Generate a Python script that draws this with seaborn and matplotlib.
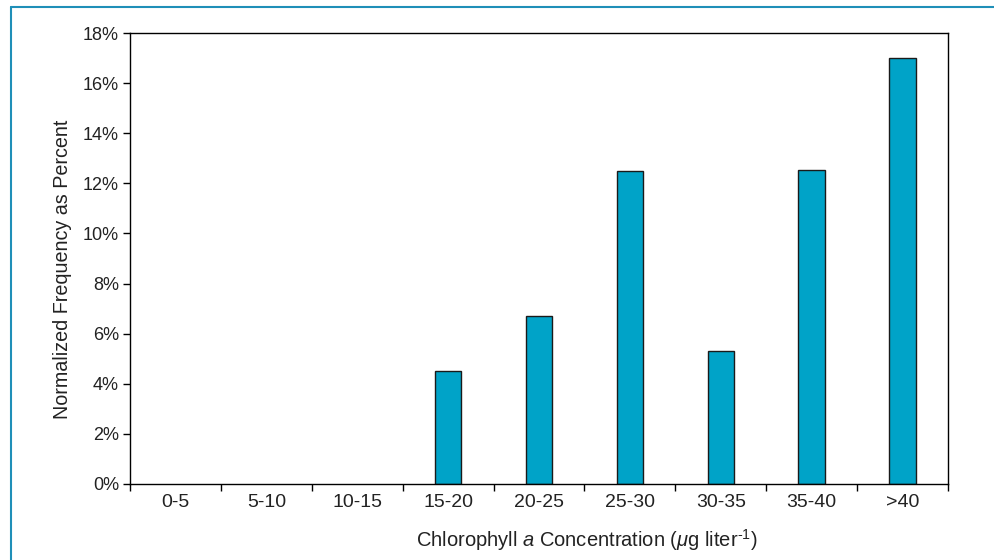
import matplotlib
matplotlib.use("Agg")
import matplotlib.pyplot as plt
import seaborn as sns
import pandas as pd
from matplotlib.ticker import FuncFormatter, FixedLocator
from matplotlib.lines import Line2D

categories = ["0-5", "5-10", "10-15", "15-20", "20-25", "25-30", "30-35", "35-40", ">40"]
values = [0.0, 0.0, 0.0, 4.5, 6.7, 12.5, 5.3, 12.55, 17.0]
y_ticks = [0, 2, 4, 6, 8, 10, 12, 14, 16, 18]

sns.set_theme(style="white")
plt.rcParams['font.family'] = ['Liberation Sans', 'DejaVu Sans']
plt.rcParams['mathtext.fontset'] = 'custom'
plt.rcParams['mathtext.rm'] = 'Liberation Sans'
plt.rcParams['mathtext.it'] = 'Liberation Sans:italic'

df = pd.DataFrame({"cat": categories, "val": values})

fig = plt.figure(figsize=(9.95, 5.6), dpi=100)
ax = fig.add_axes([130/995, 1-484/560, (948-130)/995, (484-33)/560])

sns.barplot(data=df, x="cat", y="val", order=categories, color="#00A3C8",
            saturation=1, width=0.29, edgecolor="#1a1a1a", linewidth=1.0, ax=ax)
for p in ax.patches:
    if p.get_height() == 0:
        p.set_linewidth(0)

ax.set_xlim(-0.5, len(categories)-0.5)
ax.set_ylim(0, 18)
ax.set_yticks(y_ticks)
ax.yaxis.set_major_formatter(FuncFormatter(lambda v, p: f"{int(v)}%"))
ax.tick_params(axis="y", which="major", direction="out", length=5, width=1,
               color="black", labelsize=13, pad=3, left=True)
ax.tick_params(axis="x", which="major", length=0, labelsize=14, pad=7)
ax.xaxis.set_minor_locator(FixedLocator([i - 0.5 for i in range(len(categories)+1)]))
ax.tick_params(axis="x", which="minor", direction="out", length=5, width=1,
               color="black", bottom=True)
for s in ax.spines.values():
    s.set_visible(True)
    s.set_color("black")
    s.set_linewidth(1.0)

ax.set_xlabel(r"Chlorophyll $a$ Concentration ($\mu$g liter$^{\text{-}1}$)", fontsize=14.5, color="#222222")
ax.set_ylabel("Normalized Frequency as Percent", fontsize=14.2, color="#222222")
ax.xaxis.set_label_coords((587-130)/818, -(540-484)/451)
ax.xaxis.label.set_va("center")
ax.yaxis.set_label_coords(-(130-62)/818, (484-269)/451)
ax.yaxis.label.set_va("center")
for lab in ax.get_xticklabels() + ax.get_yticklabels():
    lab.set_color("#222222")

# figure frame (left and top edges)
fc = "#1f8fb8"
fig.add_artist(Line2D([11/995, 11/995], [0, 1-7/560], transform=fig.transFigure, color=fc, lw=1.5))
fig.add_artist(Line2D([11/995, 1], [1-7/560, 1-7/560], transform=fig.transFigure, color=fc, lw=1.5))

fig.savefig("out.png", dpi=100)
